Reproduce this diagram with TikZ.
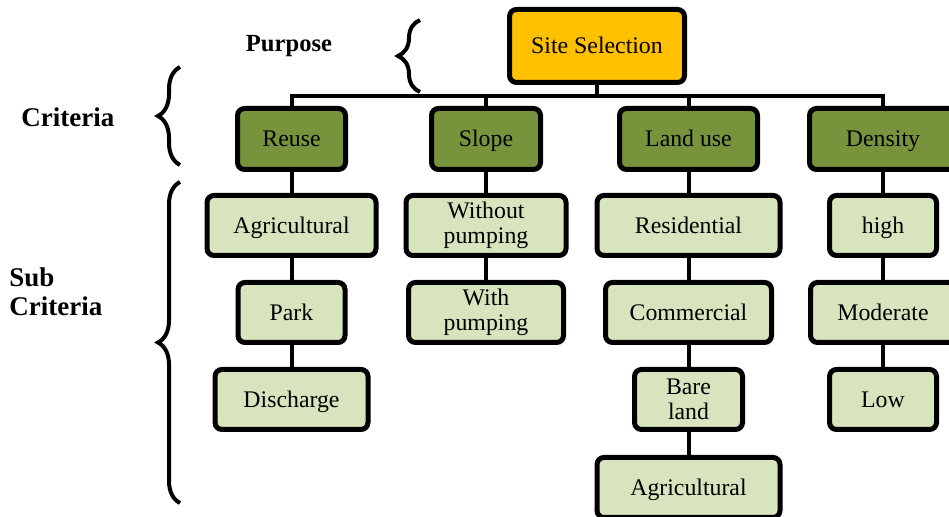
\documentclass[tikz,border=0pt]{standalone}
\usepackage{fontspec}
\setmainfont{Liberation Serif}
\usetikzlibrary{decorations.pathreplacing}
\definecolor{orangebox}{HTML}{FFC000}
\definecolor{darkgreen}{HTML}{77933C}
\definecolor{lightgreen}{HTML}{D7E4BD}
\begin{document}
\begin{tikzpicture}[x=0.5pt,y=-0.5pt,
  box/.style={draw=black,line width=2.5pt,rounded corners=3.5pt,inner sep=0pt,
    align=center,font=\fontsize{11.9}{12.6}\selectfont},
  oneline/.style={text height=9.5pt,text depth=1.5pt},
  topbox/.style={box,oneline,fill=orangebox,minimum height=36.5pt},
  critbox/.style={box,oneline,fill=darkgreen,minimum height=30.5pt},
  subbox/.style={box,fill=lightgreen,minimum height=30pt},
  conn/.style={line width=2pt},
  bracepath/.style={line width=2pt,decorate,decoration={brace,amplitude=11pt}},
  lbl/.style={font=\bfseries\fontsize{13.5}{14.5}\selectfont,inner sep=0pt,align=left}]
\useasboundingbox (0,0) rectangle (949,517);
\clip (0,0) rectangle (949,517);
\fill[white] (0,0) rectangle (949,517);
\coordinate (bus) at (597,96);
% top
\node[topbox,minimum width=87.5pt] (site) at (597,46) {Site Selection};
% criteria
\node[critbox,minimum width=54pt] (reuse) at (291.5,139) {Reuse};
\node[critbox,minimum width=54.5pt] (slope) at (486,139) {Slope};
\node[critbox,minimum width=69pt] (landuse) at (688.5,139) {Land use};
\node[critbox,minimum width=73.5pt] (density) at (883,139) {Density};
% sub criteria
\node[subbox,oneline,minimum width=84.5pt] (agri1) at (291.5,225.5) {Agricultural};
\node[subbox,oneline,minimum width=53.5pt] (park) at (291.5,312.5) {Park};
\node[subbox,oneline,minimum width=76.5pt] (discharge) at (291.5,399.5) {Discharge};
\node[subbox,minimum width=80pt] (without) at (486,225.5) {Without\\pumping};
\node[subbox,minimum width=77.5pt] (with) at (486,312.5) {With\\pumping};
\node[subbox,oneline,minimum width=91.5pt] (resid) at (688.5,225.5) {Residential};
\node[subbox,oneline,minimum width=83pt] (comm) at (688.5,312.5) {Commercial};
\node[subbox,minimum width=54pt] (bare) at (688.5,399.5) {Bare\\land};
\node[subbox,oneline,minimum width=91.5pt] (agri2) at (688.5,487.5) {Agricultural};
\node[subbox,oneline,minimum width=53.5pt] (high) at (883,225.5) {high};
\node[subbox,oneline,minimum width=72.5pt] (moderate) at (883,312.5) {Moderate};
\node[subbox,oneline,minimum width=53.5pt] (low) at (883,399.5) {Low};
% connectors
\draw[conn] (site.south) -- (bus);
\draw[conn] (reuse.north) |- (bus) -| (density.north);
\draw[conn] (slope.north) -- (slope.north|-bus);
\draw[conn] (landuse.north) -- (landuse.north|-bus);
\draw[conn] (reuse) -- (agri1) (agri1) -- (park) (park) -- (discharge);
\draw[conn] (slope) -- (without) (without) -- (with);
\draw[conn] (landuse) -- (resid) (resid) -- (comm) (comm) -- (bare) (bare) -- (agri2);
\draw[conn] (density) -- (high) (high) -- (moderate) (moderate) -- (low);
% braces
\coordinate (pb1) at (420,92);
\coordinate (pb2) at (420,20);
\coordinate (cb1) at (180,165);
\coordinate (cb2) at (180,67);
\coordinate (sb1) at (180,503);
\coordinate (sb2) at (180,182);
\draw[bracepath] (pb1) -- (pb2);
\draw[bracepath] (cb1) -- (cb2);
\draw[bracepath] (sb1) -- (sb2);
% labels
\node[lbl,font=\bfseries\fontsize{12.3}{14.5}\selectfont] (purpose) at (289,46.5) {Purpose};
\node[lbl,anchor=west] (criteria) at (21,117.5) {Criteria};
\node[lbl,anchor=west] (subcrit) at (9,292) {Sub\\Criteria};
\end{tikzpicture}
\end{document}
